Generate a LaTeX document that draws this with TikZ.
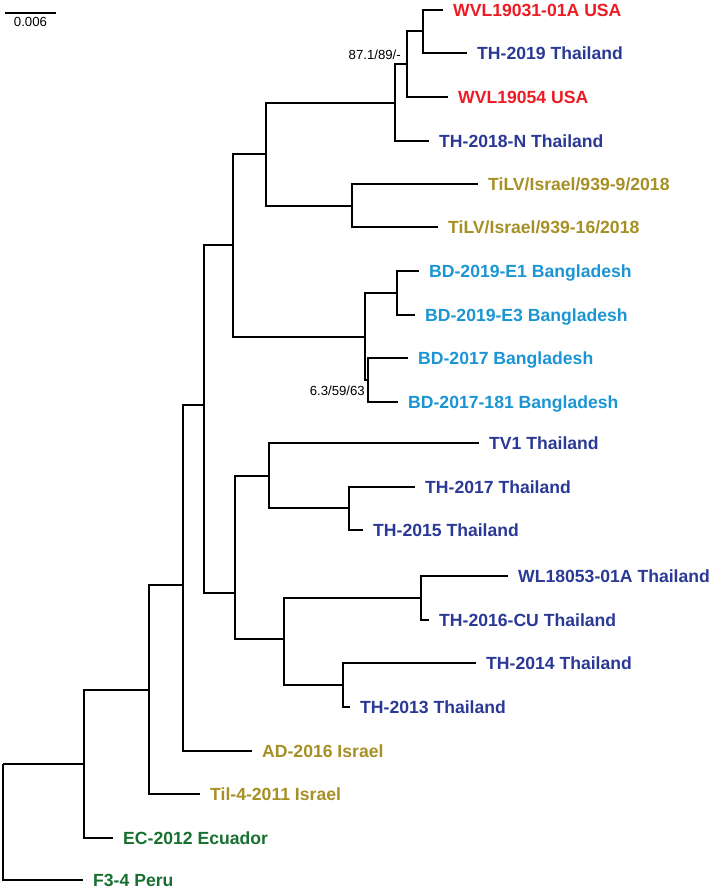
\documentclass[tikz,border=0pt]{standalone}
\usepackage{fontspec}
\setmainfont{Liberation Sans}
\usetikzlibrary{positioning}

\definecolor{usared}{RGB}{237,28,36}
\definecolor{thaiblue}{RGB}{43,57,150}
\definecolor{bdblue}{RGB}{27,149,211}
\definecolor{isrolive}{RGB}{166,143,36}
\definecolor{sagreen}{RGB}{24,112,48}

\begin{document}
\begin{tikzpicture}[x=1pt,y=-1pt,
	branch/.style={line width=1.6pt},
	taxon/.style={anchor=west,inner sep=0pt,font=\bfseries\fontsize{17.6}{20}\selectfont,text height=12.5pt,text depth=0pt},
	support/.style={inner sep=0pt,font=\fontsize{13.2}{15}\selectfont}]
		\useasboundingbox (0,0) rectangle (726,889);
		% tips and taxon labels
		\foreach \i/\x/\y/\col/\lab in {1/443/10/usared/{WVL19031-01A USA}, 2/467/53/thaiblue/{TH-2019 Thailand}, 3/448/97/usared/{WVL19054 USA}, 4/429/141/thaiblue/{TH-2018-N Thailand}, 5/478/184/isrolive/{TiLV/Israel/939-9/2018}, 6/438/227/isrolive/{TiLV/Israel/939-16/2018}, 7/419/271/bdblue/{BD-2019-E1 Bangladesh}, 8/415/315/bdblue/{BD-2019-E3 Bangladesh}, 9/408/358/bdblue/{BD-2017 Bangladesh}, 10/398/402/bdblue/{BD-2017-181 Bangladesh}, 11/479/443/thaiblue/{TV1 Thailand}, 12/415/487/thaiblue/{TH-2017 Thailand}, 13/363/530/thaiblue/{TH-2015 Thailand}, 14/508/576/thaiblue/{WL18053-01A Thailand}, 15/429/620/thaiblue/{TH-2016-CU Thailand}, 16/476/663/thaiblue/{TH-2014 Thailand}, 17/350/707/thaiblue/{TH-2013 Thailand}, 18/252/751/isrolive/{AD-2016 Israel}, 19/200/794/isrolive/{Til-4-2011 Israel}, 20/113/838/sagreen/{EC-2012 Ecuador}, 21/83/880/sagreen/{F3-4 Peru}}{
		\coordinate (t\i) at (\x,\y);
		\node[taxon,text=\col,right=10pt of t\i] (l\i) {\lab};
		}
		% internal nodes
		\coordinate (a) at (423,31);
		\coordinate (b) at (407,64);
		\coordinate (c) at (395,103);
		\coordinate (d) at (352,206);
		\coordinate (e) at (266,154);
		\coordinate (f) at (397,293);
		\coordinate (g) at (368,380);
		\coordinate (h) at (365,337);
		\coordinate (i) at (233,245);
		\coordinate (j) at (349,508);
		\coordinate (k) at (269,476);
		\coordinate (m) at (421,598);
		\coordinate (n) at (343,685);
		\coordinate (o) at (284,639);
		\coordinate (p) at (235,593);
		\coordinate (q) at (204,405);
		\coordinate (r) at (183,585);
		\coordinate (s) at (149,690);
		\coordinate (u) at (84,764);
		\coordinate (root) at (3,764);
		\foreach \anc/\desc in {a/t1, a/t2, b/a, b/t3, c/b, c/t4, d/t5, d/t6, e/c, e/d, f/t7, f/t8, g/t9, g/t10, h/f, h/g, i/e, i/h, j/t12, j/t13, k/t11, k/j, m/t14, m/t15, n/t16, n/t17, o/m, o/n, p/k, p/o, q/i, q/p, r/q, r/t18, s/r, s/t19, u/s, u/t20, root/u, root/t21}{
		\draw[branch] (\anc) |- (\desc);
		}
		% support values
		\node[support,anchor=east] (sup1) at ([xshift=-6pt,yshift=9pt]b) {87.1/89/-};
		\node[support,anchor=east] (sup2) at ([xshift=-3pt,yshift=-11pt]g) {6.3/59/63};
		% scale bar
		\coordinate (sb1) at (5,13);
		\coordinate (sb2) at (56,13);
		\coordinate (sbm) at (30.5,13);
		\draw[branch] (sb1) -- (sb2);
		\node[support,below=4pt of sbm] (sblab) {0.006};
\end{tikzpicture}
\end{document}
